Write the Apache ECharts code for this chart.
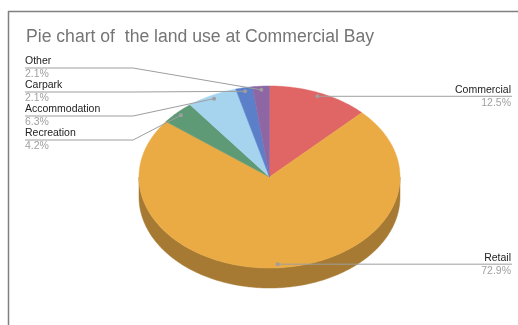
<!DOCTYPE html>
<html>
<head>
<meta charset="utf-8">
<script src="https://cdn.jsdelivr.net/npm/echarts@6/dist/echarts.min.js"></script>
<style>
  html, body { margin: 0; padding: 0; background: #ffffff; }
  #chart { width: 518px; height: 325px; }
</style>
</head>
<body>
<div id="chart"></div>
<script>
// ---- Data ----
const titleText = 'Pie chart of  the land use at Commercial Bay';
const categories = ['Commercial', 'Retail', 'Recreation', 'Accommodation', 'Carpark', 'Other'];
const values = [6, 35, 2, 3, 1, 1];
const topColors = ['#E06666', '#EAAB45', '#5F9A76', '#A6D4EE', '#5B7FC9', '#8E66A4'];
const sideColors = ['#A04848', '#A67A32', '#436E54', '#7697A9', '#405A8F', '#654975'];

// ---- Layout ----
const FONT = 'Liberation Sans, Arial, sans-serif';
const CX = 269.5, CY = 177, RX = 130.5, RY = 91, DEPTH = 20;
const LABEL_R = 0.96;
const LEFT_X = 25, LEFT_BEND = 133, LEFT_TOP = 68, LEFT_STEP = 24;
const RIGHT_X = 512;

const total = values.reduce((a, b) => a + b, 0);
const startAngles = [];
{
  let acc = 0;
  values.forEach(v => { startAngles.push(acc / total * Math.PI * 2); acc += v; });
}
function range(i) {
  return [startAngles[i], startAngles[i] + values[i] / total * Math.PI * 2];
}
function pt(a, k, dy) {
  return [CX + k * RX * Math.sin(a), CY - k * RY * Math.cos(a) + (dy || 0)];
}
function arcPoints(a0, a1, dy) {
  const n = Math.max(2, Math.ceil((a1 - a0) / (Math.PI / 180)));
  const pts = [];
  for (let j = 0; j <= n; j++) pts.push(pt(a0 + (a1 - a0) * j / n, 1, dy));
  return pts;
}
function anchor(i) {
  const r = range(i);
  const mid = (r[0] + r[1]) / 2;
  return { mid: mid, p: pt(mid, LABEL_R, 0) };
}
// left-side label slots ordered by anchor height
const leftOrder = categories.map((c, i) => i)
  .filter(i => Math.sin(anchor(i).mid) < 0)
  .sort((a, b) => anchor(a).p[1] - anchor(b).p[1]);

const seriesData = categories.map((c, i) => ({ name: c, value: values[i] }));

function renderSide(params) {
  const i = params.dataIndex;
  const r = range(i);
  const s = Math.max(r[0], Math.PI / 2), e = Math.min(r[1], Math.PI * 3 / 2);
  if (s >= e) return null;
  const top = arcPoints(s, e, 0);
  const bottom = arcPoints(s, e, DEPTH).reverse();
  return {
    type: 'polygon',
    shape: { points: top.concat(bottom) },
    style: { fill: sideColors[i], stroke: sideColors[i], lineWidth: 0.5 }
  };
}
function renderTop(params) {
  const i = params.dataIndex;
  const r = range(i);
  const pts = [[CX, CY]].concat(arcPoints(r[0], r[1], 0));
  return {
    type: 'polygon',
    shape: { points: pts },
    style: { fill: topColors[i], stroke: topColors[i], lineWidth: 0.5 }
  };
}
function renderLabel(params) {
  const i = params.dataIndex;
  const a = anchor(i);
  const ax = a.p[0], ay = a.p[1];
  const pct = (values[i] / total * 100).toFixed(1) + '%';
  const children = [];
  if (Math.sin(a.mid) >= 0) {
    children.push({ type: 'polyline', shape: { points: [[ax, ay], [RIGHT_X, ay]] },
      style: { stroke: '#9e9e9e', lineWidth: 1, fill: null } });
    children.push({ type: 'text', x: RIGHT_X - 1, y: ay - 6.5,
      style: { text: categories[i], fill: '#222222', font: '10.5px ' + FONT, align: 'right', verticalAlign: 'middle' } });
    children.push({ type: 'text', x: RIGHT_X - 1, y: ay + 6.5,
      style: { text: pct, fill: '#a0a0a0', font: '10.5px ' + FONT, align: 'right', verticalAlign: 'middle' } });
  } else {
    const slot = LEFT_TOP + LEFT_STEP * leftOrder.indexOf(i);
    children.push({ type: 'polyline', shape: { points: [[LEFT_X, slot], [LEFT_BEND, slot], [ax, ay]] },
      style: { stroke: '#9e9e9e', lineWidth: 1, fill: null } });
    children.push({ type: 'text', x: LEFT_X, y: slot - 6.5,
      style: { text: categories[i], fill: '#222222', font: '10.5px ' + FONT, align: 'left', verticalAlign: 'middle' } });
    children.push({ type: 'text', x: LEFT_X, y: slot + 6,
      style: { text: pct, fill: '#a0a0a0', font: '10.5px ' + FONT, align: 'left', verticalAlign: 'middle' } });
  }
  children.push({ type: 'circle', shape: { cx: ax, cy: ay, r: 2 }, style: { fill: '#9e9e9e' } });
  return { type: 'group', children: children };
}

const chart = echarts.init(document.getElementById('chart'), null, { renderer: 'canvas' });
chart.setOption({
  animation: false,
  backgroundColor: '#ffffff',
  title: {
    text: titleText,
    left: 26, top: 28, padding: 0,
    textStyle: { fontSize: 17.6, fontWeight: 'normal', color: '#757575', fontFamily: FONT }
  },
  graphic: [
    { type: 'line', shape: { x1: 8, y1: 11.5, x2: 518, y2: 11.5 }, style: { stroke: '#808080', lineWidth: 1.5 }, z: 0 },
    { type: 'line', shape: { x1: 8.5, y1: 11, x2: 8.5, y2: 325 }, style: { stroke: '#808080', lineWidth: 1.5 }, z: 0 }
  ],
  series: [
    { type: 'custom', coordinateSystem: 'none', z: 1, silent: true, data: seriesData, renderItem: renderSide },
    { type: 'custom', coordinateSystem: 'none', z: 2, silent: true, data: seriesData, renderItem: renderTop },
    { type: 'custom', coordinateSystem: 'none', z: 3, silent: true, data: seriesData, renderItem: renderLabel }
  ]
});
</script>
</body>
</html>
